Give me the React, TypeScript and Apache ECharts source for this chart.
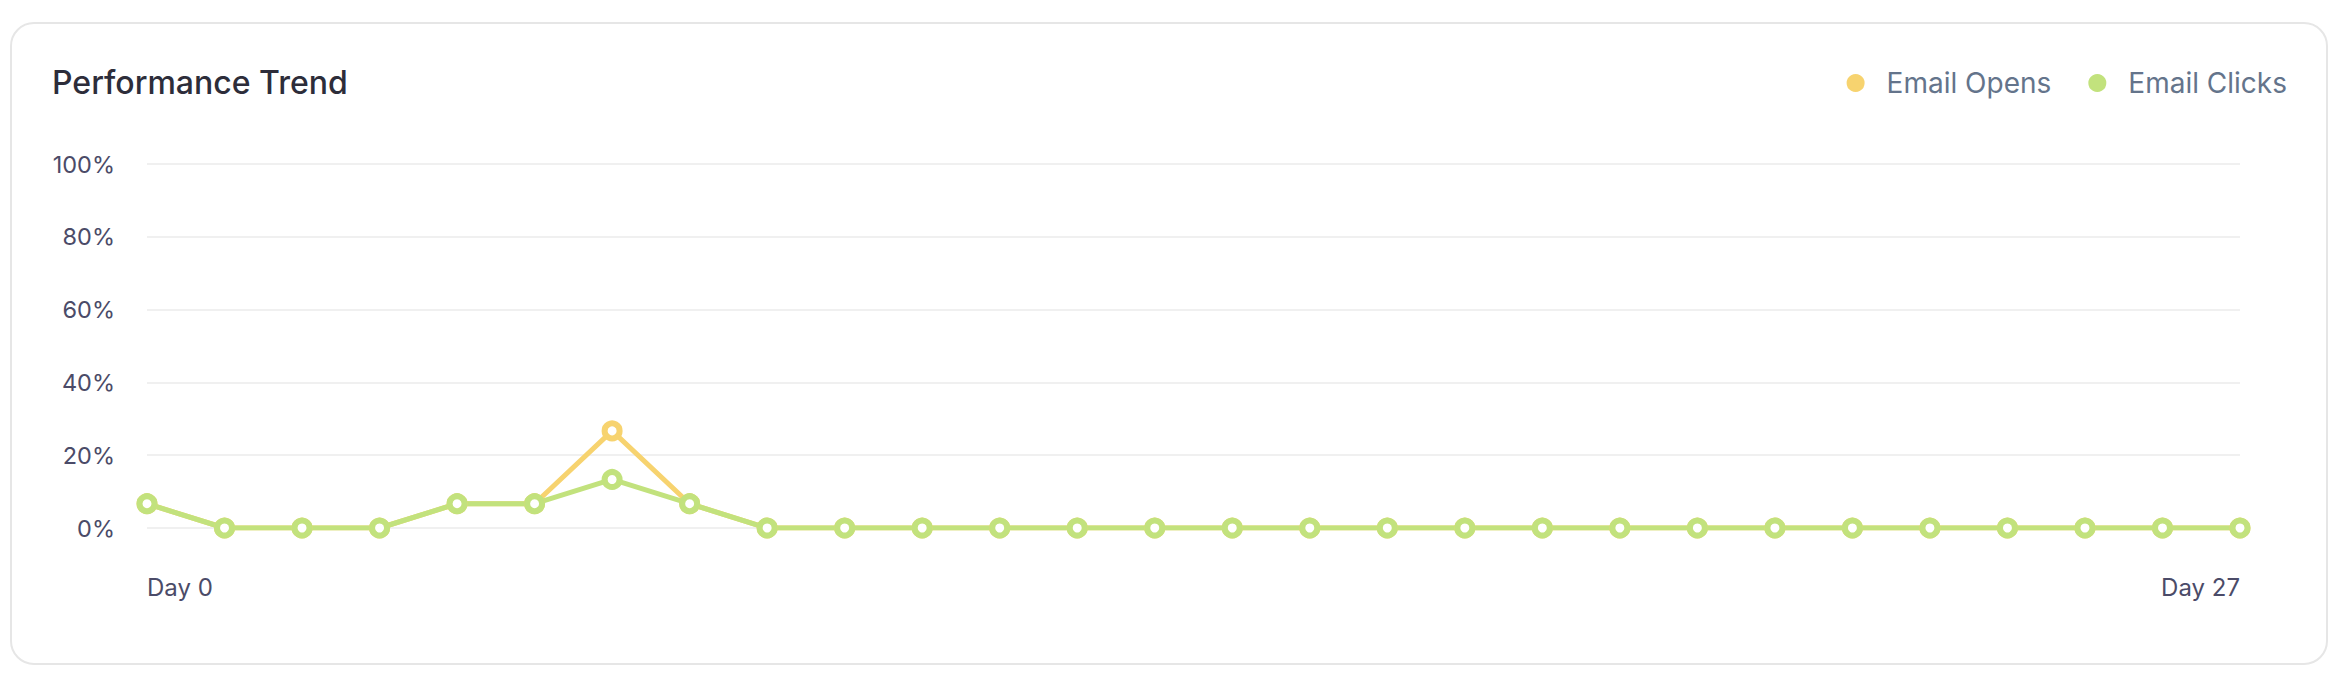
import React, { useEffect, useRef } from 'react';
import * as echarts from 'echarts';

// Day labels along the x axis
const days = [
  'Day 0', 'Day 1', 'Day 2', 'Day 3', 'Day 4', 'Day 5', 'Day 6',
  'Day 7', 'Day 8', 'Day 9', 'Day 10', 'Day 11', 'Day 12', 'Day 13',
  'Day 14', 'Day 15', 'Day 16', 'Day 17', 'Day 18', 'Day 19', 'Day 20',
  'Day 21', 'Day 22', 'Day 23', 'Day 24', 'Day 25', 'Day 26', 'Day 27',
];

// Rates in percent
const emailOpens = [
  6.67, 0, 0, 0, 6.67, 6.67, 26.67, 6.67, 0, 0,
  0, 0, 0, 0, 0, 0, 0, 0, 0, 0,
  0, 0, 0, 0, 0, 0, 0, 0,
];
const emailClicks = [
  6.67, 0, 0, 0, 6.67, 6.67, 13.33, 6.67, 0, 0,
  0, 0, 0, 0, 0, 0, 0, 0, 0, 0,
  0, 0, 0, 0, 0, 0, 0, 0,
];

const seriesNames = ['Email Opens', 'Email Clicks'];
const yTicks = [0, 20, 40, 60, 80, 100];

const OPENS_COLOR = '#F7D36F';
const CLICKS_COLOR = '#C2E27D';
const FONT = 'Inter, "Noto Sans", sans-serif';

const PerformanceTrend: React.FC = () => {
  const chartRef = useRef<HTMLDivElement>(null);

  useEffect(() => {
    if (!chartRef.current) return;
    const chart = echarts.init(chartRef.current, null, { renderer: 'svg' });
    const last = days.length - 1;

    // white-filled ring markers on a thick line
    const lineSeries = (name: string, data: number[], color: string) => ({
      name,
      type: 'line' as const,
      data,
      symbol: 'circle',
      symbolSize: 15,
      showAllSymbol: true,
      lineStyle: { width: 5, color },
      itemStyle: { color: '#ffffff', borderColor: color, borderWidth: 6 },
    });

    chart.setOption({
      animation: false,
      textStyle: { fontFamily: FONT },
      title: {
        text: 'Performance Trend',
        left: 47,
        top: 61,
        textStyle: { fontFamily: FONT, fontSize: 32, fontWeight: 500, color: '#2d2d3a' },
      },
      legend: {
        data: [
          { name: seriesNames[0], itemStyle: { color: OPENS_COLOR } },
          { name: seriesNames[1], itemStyle: { color: CLICKS_COLOR } },
        ],
        right: 46,
        top: 64,
        icon: 'circle',
        itemWidth: 16,
        itemHeight: 16,
        itemGap: 37,
        textStyle: {
          fontFamily: FONT,
          fontSize: 28,
          color: '#64748b',
          padding: [0, 0, 0, 18],
        },
      },
      grid: { left: 147, right: 98, top: 164, bottom: 148 },
      xAxis: {
        type: 'category',
        boundaryGap: false,
        data: days.map((d, i) => ({
          value: d,
          textStyle: { align: i === 0 ? 'left' : i === last ? 'right' : 'center' },
        })),
        axisLine: { show: false },
        axisTick: { show: false },
        axisLabel: {
          interval: (i: number) => i === 0 || i === last,
          margin: 47,
          fontFamily: FONT,
          fontSize: 24,
          color: '#4b4b68',
        },
      },
      yAxis: {
        type: 'value',
        min: yTicks[0],
        max: yTicks[yTicks.length - 1],
        interval: 20,
        axisLine: { show: false },
        axisTick: { show: false },
        splitLine: { lineStyle: { color: '#f0f0f0', width: 2 } },
        axisLabel: {
          formatter: '{value}%',
          margin: 32,
          fontFamily: FONT,
          fontSize: 23.5,
          color: '#4b4b68',
        },
      },
      series: [
        lineSeries(seriesNames[0], emailOpens, OPENS_COLOR),
        lineSeries(seriesNames[1], emailClicks, CLICKS_COLOR),
      ],
    });

    return () => chart.dispose();
  }, []);

  return (
    <div style={{ position: 'fixed', left: 0, top: 0, width: 2338, height: 676, background: '#fff' }}>
      {/* card outline */}
      <div
        style={{
          position: 'absolute',
          left: 10,
          top: 22,
          width: 2318,
          height: 643,
          boxSizing: 'border-box',
          border: '2px solid #e6e6e6',
          borderRadius: 24,
          background: '#fff',
        }}
      />
      <div ref={chartRef} style={{ position: 'absolute', left: 0, top: 0, width: 2338, height: 676 }} />
    </div>
  );
};

export default function App() {
  return <PerformanceTrend />;
}
